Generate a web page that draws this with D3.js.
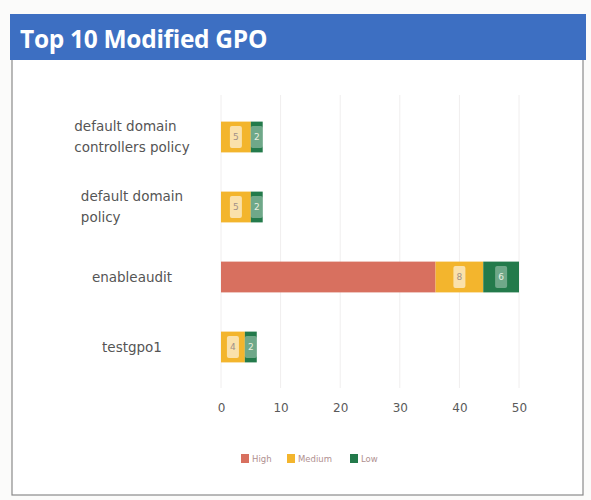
<!DOCTYPE html>
<html>
<head>
<meta charset="utf-8">
<script src="https://cdn.jsdelivr.net/npm/d3@7"></script>
<style>
  html, body { margin: 0; padding: 0; background: #fbfbfa; }
  svg { display: block; }
</style>
</head>
<body>
<svg id="chart" width="591" height="500"></svg>
<script>
// ---- data ----
const title = "Top 10 Modified GPO";
const categories = [
  "default domain\ncontrollers policy",
  "default domain\npolicy",
  "enableaudit",
  "testgpo1"
];
const seriesNames = ["High", "Medium", "Low"];
const highValues = [0, 0, 36, 0];
const mediumValues = [5, 5, 8, 4];
const lowValues = [2, 2, 6, 2];
const xTicks = [0, 10, 20, 30, 40, 50];
const seriesColors = ["#d8705f", "#f3b52d", "#237a4b"];

// ---- build table ----
const rows = categories.map((c, i) => ({
  category: c, High: highValues[i], Medium: mediumValues[i], Low: lowValues[i]
}));
const stacked = d3.stack().keys(seriesNames)(rows);

const svg = d3.select("#chart");

// panel
svg.append("rect").attr("x", 12).attr("y", 58).attr("width", 571).attr("height", 437)
  .attr("fill", "#ffffff").attr("stroke", "#8a8a8a").attr("stroke-width", 1.2);
// title bar
svg.append("rect").attr("x", 10).attr("y", 14).attr("width", 576).attr("height", 46)
  .attr("fill", "#3d6fc2");
svg.append("text").attr("x", 20).attr("y", 48).text(title)
  .attr("fill", "#ffffff").attr("font-family", "Open Sans, sans-serif")
  .attr("font-weight", "bold").attr("font-size", 24.5).attr("letter-spacing", -0.3);

// scales
const x = d3.scaleLinear().domain([0, 50]).range([221, 519]);
const y = d3.scaleBand().domain(categories).range([102, 382]).paddingInner(0.56).paddingOuter(0.28);
const color = d3.scaleOrdinal().domain(seriesNames).range(seriesColors);

// gridlines
svg.append("g").selectAll("line").data(xTicks).join("line")
  .attr("x1", d => x(d)).attr("x2", d => x(d))
  .attr("y1", 95).attr("y2", 388)
  .attr("stroke", "#f0eeee").attr("stroke-width", 1);

// bars
const groups = svg.append("g").selectAll("g").data(stacked).join("g")
  .attr("fill", d => color(d.key));
groups.selectAll("rect").data(d => d.map(v => ({ key: d.key, v }))).join("rect")
  .attr("x", d => x(d.v[0]))
  .attr("y", d => y(d.v.data.category))
  .attr("width", d => Math.max(0, x(d.v[1]) - x(d.v[0])))
  .attr("height", y.bandwidth());

// data labels (inside Medium / Low segments)
const labelData = [];
stacked.forEach(s => s.forEach(v => {
  const val = v[1] - v[0];
  if (val > 0 && s.key !== "High") labelData.push({ key: s.key, v, val });
}));
const lg = svg.append("g").selectAll("g").data(labelData).join("g")
  .attr("transform", d => `translate(${x((d.v[0] + d.v[1]) / 2)},${y(d.v.data.category) + y.bandwidth() / 2})`);
lg.append("rect").attr("x", -6).attr("y", -11).attr("width", 12).attr("height", 22).attr("rx", 2)
  .attr("fill", "#ffffff").attr("opacity", d => d.key === "Low" ? 0.35 : 0.6);
lg.append("text").text(d => d.val).attr("text-anchor", "middle").attr("dy", "0.35em")
  .attr("font-family", "DejaVu Sans, sans-serif").attr("font-size", 9)
  .attr("fill", d => d.key === "Low" ? "#e8efe0" : "#a09088");

// x axis labels
const xAxis = d3.axisBottom(x).tickValues(xTicks).tickSize(0).tickPadding(0);
const xg = svg.append("g").attr("transform", "translate(0,403)").call(xAxis);
xg.select(".domain").remove();
xg.selectAll("text").attr("font-family", "DejaVu Sans, sans-serif")
  .attr("font-size", 12).attr("fill", "#5a5a5a");

// y category labels (block centred, lines left-aligned)
const yl = svg.append("g").selectAll("text").data(categories).join("text")
  .attr("font-family", "DejaVu Sans, sans-serif").attr("font-size", 13.5).attr("fill", "#555");
yl.each(function(c) {
  const t = d3.select(this);
  const lines = c.split("\n");
  const cy = y(c) + y.bandwidth() / 2;
  lines.forEach((ln, i) => {
    t.append("tspan").text(ln)
      .attr("y", cy + (i - (lines.length - 1) / 2) * 21 + 4.5);
  });
  let w = 0;
  t.selectAll("tspan").each(function() { w = Math.max(w, this.getComputedTextLength()); });
  t.selectAll("tspan").attr("x", 132 - w / 2);
});

// legend
const legend = svg.append("g").attr("transform", "translate(0,459)");
const legendX = [241, 287, 350];
const li = legend.selectAll("g").data(seriesNames).join("g")
  .attr("transform", (d, i) => `translate(${legendX[i]},0)`);
li.append("rect").attr("x", 0).attr("y", -5).attr("width", 8).attr("height", 9)
  .attr("fill", d => color(d));
li.append("text").attr("x", 11).attr("y", 3).text(d => d)
  .attr("font-family", "DejaVu Sans, sans-serif").attr("font-size", 8.5).attr("fill", "#b09090");
</script>
</body>
</html>
